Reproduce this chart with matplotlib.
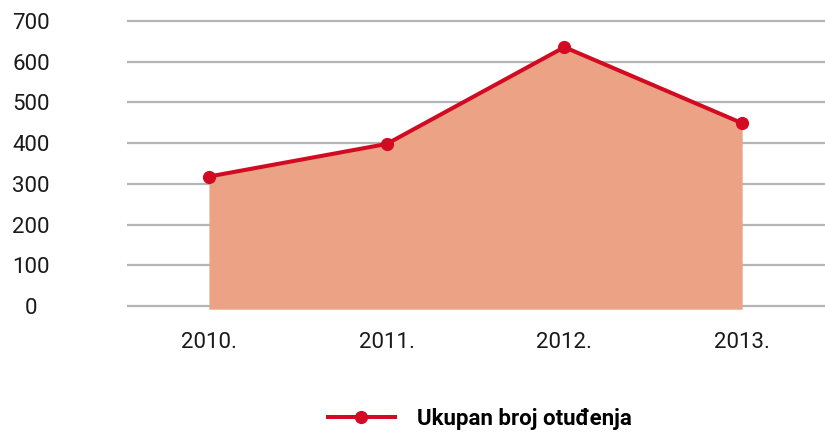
import matplotlib
matplotlib.use("Agg")
import matplotlib.pyplot as plt
from matplotlib.lines import Line2D

years = ["2010.", "2011.", "2012.", "2013."]
values = [318, 398, 636, 449]
yticks = [0, 100, 200, 300, 400, 500, 600, 700]
series_name = "Ukupan broj otuđenja"

FONT = ["Roboto", "DejaVu Sans"]
plt.rcParams['font.family'] = FONT

RED = "#D20A22"
FILL = "#EBA285"
GRID = "#B5B5B5"

fig = plt.figure(figsize=(8.25, 4.40), dpi=100)
ax = fig.add_axes([127/825, (440-310)/440, 1-127/825, (310-17)/440])

x = list(range(len(years)))
ax.set_xlim(-0.461, 3.466)
ax.set_ylim(-10, 710)

for t in yticks:
    ax.axhline(t, color=GRID, lw=1.6, zorder=0)

ax.fill_between(x, values, -8, color=FILL, lw=0, zorder=1)
ax.plot(x, values, color=RED, lw=2.9, marker="o", ms=8.5, zorder=3,
        solid_capstyle="round")

for s in ax.spines.values():
    s.set_visible(False)
ax.set_yticks(yticks)
ax.set_yticklabels([str(t) for t in yticks], ha="center", fontsize=16, color="#1a1a1a")
ax.tick_params(axis="y", length=0, pad=69)
ax.set_xticks(x)
ax.set_xticklabels(years, fontsize=16, color="#1a1a1a")
ax.tick_params(axis="x", length=0, pad=16)

handle = Line2D([], [], color=RED, lw=2.9, marker="o", ms=8.5)
fig.legend([handle], [series_name], loc="center", bbox_to_anchor=(480/825, 21/440),
           frameon=False, handlelength=3.0, handletextpad=1.0,
           prop={"family": FONT, "weight": "bold", "size": 16})

fig.savefig("out.png", dpi=100)
